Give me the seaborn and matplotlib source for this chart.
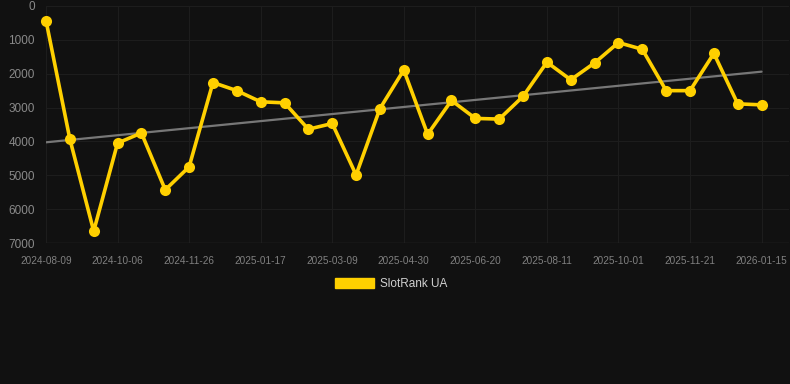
import numpy as np
import pandas as pd
import matplotlib
matplotlib.use("Agg")
import matplotlib.pyplot as plt
import seaborn as sns

# rank values (lower is better), one point per snapshot
ranks = [430, 3930, 6650, 4050, 3750, 5430, 4750, 2260, 2500, 2830,
         2860, 3640, 3470, 4990, 3030, 1890, 3790, 2790, 3320, 3340,
         2670, 1660, 2180, 1680, 1080, 1280, 2500, 2500, 1400, 2890, 2920]
# labels shown on every third point
tick_labels = ["2024-08-09", "2024-10-06", "2024-11-26", "2025-01-17", "2025-03-09",
               "2025-04-30", "2025-06-20", "2025-08-11", "2025-10-01", "2025-11-21",
               "2026-01-15"]
series_name = "SlotRank UA"

bg = "#111111"
gold = "#FFD000"

df = pd.DataFrame({"idx": np.arange(len(ranks)), "rank": ranks})

sns.set_style("dark")
plt.rcParams["font.family"] = ["Liberation Sans", "DejaVu Sans"]

fig = plt.figure(figsize=(7.9, 3.84), dpi=100, facecolor=bg)
ax = fig.add_axes([46 / 790, 1 - 243 / 384, (789 - 46) / 790, (243 - 6) / 384])
ax.set_facecolor(bg)

# trend line (least squares fit)
k, b = np.polyfit(df["idx"], df["rank"], 1)
ax.plot(df["idx"], k * df["idx"] + b, color="#777777", lw=1.6, zorder=2)

sns.lineplot(data=df, x="idx", y="rank", ax=ax, color=gold, lw=2.6,
             marker="o", markersize=8, markeredgewidth=0, zorder=3,
             label=series_name, legend=False, clip_on=False)

ax.set_ylim(7000, 0)
ax.set_xlim(0, 31.15)
ax.set_yticks(range(0, 7001, 1000))
ax.set_xticks(range(0, len(ranks), 3))
ax.set_xticklabels(tick_labels)
ax.tick_params(axis="y", colors="#8a8a8a", labelsize=8.5, length=0, pad=8)
ax.tick_params(axis="x", colors="#808080", labelsize=7.2, length=6, pad=3, color="#1e1e1e")
ax.grid(True, color="#1d1d1d", lw=0.8)
ax.set_xlabel("")
ax.set_ylabel("")
for s in ax.spines.values():
    s.set_visible(False)
ax.axhline(7000, color="#2c2c2c", lw=1, zorder=1)

# legend box below the plot
handle = plt.Rectangle((0, 0), 1, 1, color=gold)
fig.legend([handle], [series_name], loc="center", bbox_to_anchor=(0.495, 1 - 284 / 384),
           frameon=False, handlelength=3.3, handleheight=0.9, fontsize=8.5,
           labelcolor="#d0d0d0", handletextpad=0.5)

fig.savefig("out.png", dpi=100, facecolor=bg)
